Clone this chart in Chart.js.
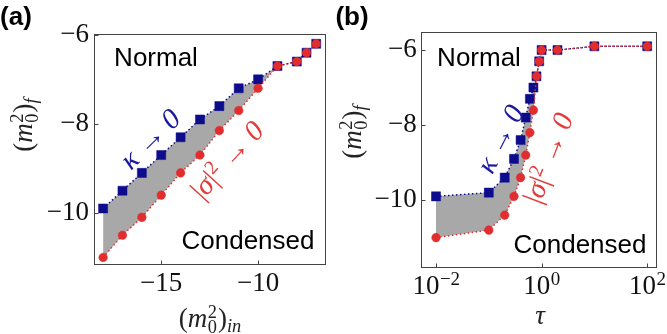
<!DOCTYPE html>
<html>
<head>
<meta charset="utf-8">
<script src="https://cdn.jsdelivr.net/npm/chart.js@4"></script>
<style>
  body { margin: 0; background: #fff; }
  #fig { position: relative; width: 667px; height: 334px; overflow: hidden; }
  canvas { position: absolute; top: 0; }
  .lbl { position: absolute; transform: translate(-50%, -50%); white-space: nowrap; line-height: 1; }
  .sans { font-family: 'Liberation Sans', Arial, sans-serif; font-size: 26px; color: #000; }
  .panel { font-family: 'Liberation Sans', Arial, sans-serif; font-weight: bold; font-size: 26px; color: #000; }
  .math { font-family: 'Liberation Serif', 'DejaVu Serif', serif; font-size: 27px; color: #222; }
  .ann { font-family: 'Liberation Serif', 'DejaVu Serif', serif; font-size: 29px; }
  /* stacked super/subscript for m_0^2 */
  .ss { display: inline-block; position: relative; width: 0.4em; height: 0; }
  .ss span { position: absolute; left: 0.03em; font-size: 0.68em; line-height: 1; }
  .ss .p { bottom: 0.3em; }
  .ss .b { bottom: -0.5em; }
  sub { font-size: 0.68em; vertical-align: -0.3em; line-height: 0; }
  sup { font-size: 0.68em; vertical-align: 0.5em; line-height: 0; }
</style>
</head>
<body>
<div id="fig">
  <canvas id="chart-a" width="333" height="334" style="left:0"></canvas>
  <canvas id="chart-b" width="334" height="334" style="left:333px"></canvas>

  <div class="lbl panel" style="left:16px;top:16px">(a)</div>
  <div class="lbl panel" style="left:352px;top:16px">(b)</div>

  <div class="lbl sans" style="left:156px;top:57px">Normal</div>
  <div class="lbl sans" style="left:248px;top:240px">Condensed</div>
  <div class="lbl sans" style="left:479px;top:57px">Normal</div>
  <div class="lbl sans" style="left:580px;top:244px">Condensed</div>

  <div class="lbl math" style="left:23px;top:125px;transform:translate(-50%,-50%) rotate(-90deg)">(<i>m</i><span class="ss"><span class="p">2</span><span class="b">0</span></span>)<sub><i>f</i></sub></div>
  <div class="lbl math" style="left:352px;top:132px;transform:translate(-50%,-50%) rotate(-90deg)">(<i>m</i><span class="ss"><span class="p">2</span><span class="b">0</span></span>)<sub><i>f</i></sub></div>
  <div class="lbl math" style="left:210px;top:318px">(<i>m</i><span class="ss"><span class="p">2</span><span class="b">0</span></span>)<sub><i>in</i></sub></div>
  <div class="lbl math" style="left:540px;top:315px"><i>τ</i></div>

  <div class="lbl ann" style="left:150px;top:139px;color:#1a1a9c;transform:translate(-50%,-50%) rotate(-44.5deg)"><i>κ</i> → <i>0</i></div>
  <div class="lbl ann" style="left:227px;top:160px;color:#e33a3a;transform:translate(-50%,-50%) rotate(-47.6deg)">|<i>σ</i>|<sup>2</sup> → <i>0</i></div>
  <div class="lbl ann" style="left:500px;top:139px;color:#1a1a9c;transform:translate(-50%,-50%) rotate(-63deg)"><i>κ</i> → <i>0</i></div>
  <div class="lbl ann" style="left:548px;top:158px;color:#e33a3a;transform:translate(-50%,-50%) rotate(-69deg)">|<i>σ</i>|<sup>2</sup> → <i>0</i></div>
</div>

<script>
// ── Data: panel (a) ─────────────────────────────────────────────────────────
const xA    = [-18, -17, -16, -15, -14, -13, -12, -11, -10, -9, -8, -7.5, -7];
const blueA = [-9.9, -9.5, -9.1, -8.7, -8.3, -7.9, -7.6, -7.2, -7.0, -6.7, -6.6, -6.4, -6.2];
const redA  = [-11.0, -10.5, -10.1, -9.6, -9.1, -8.7, -8.15, -7.7, -7.2, -6.7, -6.6, -6.4, -6.2];
const xTicksA      = [-15, -10];
const xTickLabelsA = ["−15", "−10"];
const yTicksA      = [-10, -8, -6];
const yTickLabelsA = ["−10", "−8", "−6"];

// ── Data: panel (b) ─────────────────────────────────────────────────────────
const xB    = [0.01, 0.1, 0.2, 0.3, 0.4, 0.5, 0.6, 0.7, 0.8, 0.9, 1, 2, 10, 100];
const blueB = [-9.9, -9.8, -9.4, -8.9, -8.4, -7.8, -7.3, -7.0, -6.7, -6.3, -6.0, -6.0, -5.9, -5.9];
const redB  = [-11.0, -10.8, -10.4, -9.9, -9.4, -8.8, -8.2, -7.6, -6.7, -6.3, -6.0, -6.0, -5.9, -5.9];
const xTicksB      = [0.01, 1, 100];
const xTickBaseB   = "10";
const xTickExpB    = ["−2", "0", "2"];
const yTicksB      = [-10, -8, -6];
const yTickLabelsB = ["−10", "−8", "−6"];

const BLUE = "#0c0c8c";
const RED  = "#e12d2d";
const GRAY = "#a8a8a8";
const SERIF = "'Liberation Serif', 'DejaVu Serif', serif";
const TICK_FONT = { family: SERIF, size: 27 };

// box + inward ticks, matplotlib style
const framePlugin = {
  id: "frame",
  afterDraw(chart) {
    const { ctx, chartArea: a, scales } = chart;
    ctx.save();
    ctx.strokeStyle = "#444";
    ctx.lineWidth = 1;
    const l = Math.round(a.left) + 0.5, t = Math.round(a.top) + 0.5;
    const r = Math.round(a.right) - 0.5, b = Math.round(a.bottom) - 0.5;
    ctx.strokeRect(l, t, r - l, b - t);
    ctx.beginPath();
    scales.x.ticks.forEach(tk => {
      const px = Math.round(scales.x.getPixelForValue(tk.value)) + 0.5;
      ctx.moveTo(px, b); ctx.lineTo(px, b - 4);
    });
    scales.y.ticks.forEach(tk => {
      const py = Math.round(scales.y.getPixelForValue(tk.value)) + 0.5;
      ctx.moveTo(l, py); ctx.lineTo(l + 4, py);
    });
    ctx.stroke();
    ctx.restore();
  }
};

// 10^n tick labels with a real superscript (log axis of panel b)
const powLabelPlugin = {
  id: "powLabels",
  afterDraw(chart, args, o) {
    if (!o.exps) return;
    const { ctx, scales } = chart;
    ctx.save();
    ctx.fillStyle = "#111";
    ctx.textBaseline = "alphabetic";
    ctx.textAlign = "left";
    scales.x.ticks.forEach((tk, i) => {
      const px = scales.x.getPixelForValue(tk.value);
      ctx.font = `27px ${SERIF}`;
      const wb = ctx.measureText(o.base).width;
      ctx.font = `19px ${SERIF}`;
      const we = ctx.measureText(o.exps[i]).width;
      const x0 = px - (wb + we) / 2;
      ctx.font = `27px ${SERIF}`;
      ctx.fillText(o.base, x0, o.baseline);
      ctx.font = `19px ${SERIF}`;
      ctx.fillText(o.exps[i], x0 + wb + 0.5, o.baseline - 9);
    });
    ctx.restore();
  }
};

function series(xs, ys, color, style, radius, extra) {
  return Object.assign({
    data: xs.map((x, i) => ({ x, y: ys[i] })),
    borderColor: color,
    borderWidth: 1.5,
    borderDash: [1.5, 2.5],
    tension: 0,
    pointStyle: style,
    pointRadius: radius,
    pointBackgroundColor: color,
    pointBorderColor: color,
    pointBorderWidth: 0.5,
    fill: false,
  }, extra);
}

function makePanel(id, opt) {
  new Chart(document.getElementById(id), {
    type: "line",
    data: {
      datasets: [
        series(opt.xs, opt.blue, BLUE, "rect", 6.4, { fill: "+1", backgroundColor: GRAY, order: 2 }),
        series(opt.xs, opt.red, RED, "circle", 4.3, { order: 1 }),
      ]
    },
    options: {
      responsive: false,
      animation: false,
      devicePixelRatio: 1,
      layout: { padding: opt.padding },
      plugins: {
        legend: { display: false },
        tooltip: { enabled: false },
        powLabels: opt.pow || {},
      },
      scales: {
        x: {
          type: opt.xType,
          min: opt.xMin, max: opt.xMax,
          grid: { display: false, drawTicks: false },
          border: { display: false },
          afterBuildTicks: s => { s.ticks = opt.xTicks.map(v => ({ value: v })); },
          afterFit: s => { s.height = opt.xAxisH; },
          ticks: {
            display: !opt.pow,
            autoSkip: false, maxRotation: 0, padding: opt.xPad,
            color: "#111", font: TICK_FONT,
            callback: (v, i) => opt.xLabels ? opt.xLabels[i] : "",
          }
        },
        y: {
          type: "linear",
          min: opt.yMin, max: opt.yMax,
          grid: { display: false, drawTicks: false },
          border: { display: false },
          afterBuildTicks: s => { s.ticks = opt.yTicks.map(v => ({ value: v })); },
          afterFit: s => { s.width = opt.yAxisW; },
          ticks: {
            autoSkip: false, padding: opt.yPad,
            color: "#111", font: TICK_FONT,
            callback: (v, i) => opt.yLabels[i],
          }
        }
      }
    },
    plugins: [framePlugin, powLabelPlugin]
  });
}

makePanel("chart-a", {
  xs: xA, blue: blueA, red: redA,
  xType: "linear", xMin: -18.47, xMax: -6.52, yMin: -11.17, yMax: -5.98,
  xTicks: xTicksA, xLabels: xTickLabelsA, yTicks: yTicksA, yLabels: yTickLabelsA,
  padding: { left: 0, top: 34, right: 7.5, bottom: 0 },
  yAxisW: 94, xAxisH: 69, xPad: 3, yPad: 5,
});

makePanel("chart-b", {
  xs: xB, blue: blueB, red: redB,
  xType: "logarithmic", xMin: Math.pow(10, -2.29), xMax: Math.pow(10, 2.18), yMin: -11.81, yMax: -5.51,
  xTicks: xTicksB, yTicks: yTicksB, yLabels: yTickLabelsB,
  pow: { base: xTickBaseB, exps: xTickExpB, baseline: 294 },
  padding: { left: 0, top: 31.7, right: 10.3, bottom: 0 },
  yAxisW: 87.7, xAxisH: 66, xPad: 5, yPad: 4,
});
</script>
</body>
</html>
